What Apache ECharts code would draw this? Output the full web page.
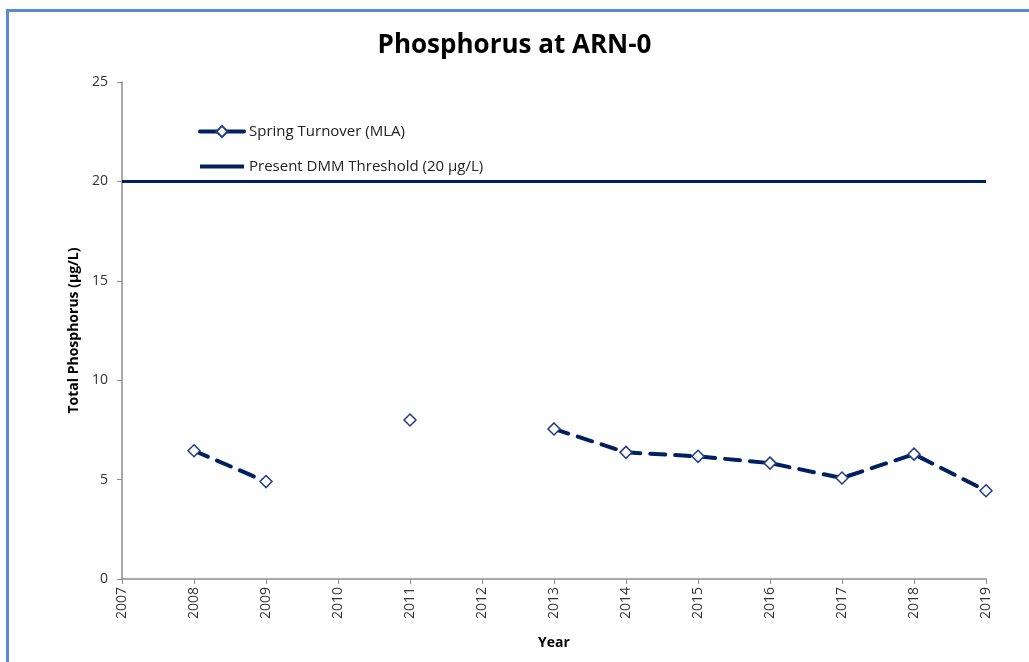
<!DOCTYPE html>
<html>
<head>
<meta charset="utf-8">
<title>Phosphorus at ARN-0</title>
<script src="https://cdn.jsdelivr.net/npm/echarts@6/dist/echarts.min.js"></script>
<style>
    html, body { margin: 0; padding: 0; background: #fff; }
    #chart { width: 1029px; height: 662px; }
</style>
</head>
<body>
<div id="chart"></div>
<script>
// data
let years = [2008, 2009, 2010, 2011, 2012, 2013, 2014, 2015, 2016, 2017, 2018, 2019];
let phosphorus = [6.45, 4.9, null, 8.0, null, 7.55, 6.37, 6.17, 5.83, 5.08, 6.28, 4.44];
let thresholdYears = [2007, 2019];
let thresholdValues = [20, 20];

let navy = '#002060';
let fontFamily = '"Open Sans", "Liberation Sans", sans-serif';

let toPairs = function(xs, ys) {
    return xs.map(function(x, i) {
        return [x, ys[i] === null ? '-' : ys[i]];
    });
};

// plain bar for the threshold legend entry (tiny dots keep the box 44x14)
let lineIcon = 'path://M0,0 L0.01,0 L0,0.01 Z M0,5 L44,5 L44,9 L0,9 Z M44,14 L43.99,14 L44,13.99 Z';

let myChart = echarts.init(document.getElementById('chart'), null, { renderer: 'canvas' });

let options = {
    backgroundColor: '#fff',
    textStyle: { fontFamily: fontFamily },
    title: {
        text: 'Phosphorus at ARN-0',
        left: 'center',
        top: 28,
        textStyle: {
            fontFamily: fontFamily,
            fontSize: 26,
            fontWeight: 'bold',
            color: '#000'
        }
    },
    graphic: [
        {
            type: 'rect',
            silent: true,
            shape: { x: 7.5, y: 10.5, width: 1100, height: 700 },
            style: { fill: 'none', stroke: '#5b8ad2', lineWidth: 3 }
        }
    ],
    legend: {
        orient: 'vertical',
        left: 193,
        top: 119,
        itemWidth: 44,
        itemHeight: 14,
        itemGap: 20,
        textStyle: { fontFamily: fontFamily, fontSize: 15, color: '#222' },
        data: [
            {
                name: 'Spring Turnover (MLA)',
                lineStyle: { type: 'solid', width: 4 }
            },
            {
                name: 'Present DMM Threshold (20 µg/L)',
                icon: lineIcon
            }
        ]
    },
    grid: {
        left: 122,
        right: 43,
        top: 82,
        bottom: 83
    },
    xAxis: {
        type: 'value',
        min: 2007,
        max: 2019,
        interval: 1,
        name: 'Year',
        nameLocation: 'middle',
        nameGap: 57,
        nameTextStyle: { fontFamily: fontFamily, fontSize: 14, fontWeight: 'bold', color: '#000' },
        splitLine: { show: false },
        axisLine: { lineStyle: { color: '#8c8c8c', width: 1.5 } },
        axisTick: { show: true, length: 5, lineStyle: { color: '#8c8c8c' } },
        axisLabel: {
            rotate: 90,
            margin: 8,
            fontSize: 14,
            color: '#333',
            formatter: function(v) { return String(v); }
        }
    },
    yAxis: {
        type: 'value',
        min: 0,
        max: 25,
        interval: 5,
        name: 'Total Phosphorus (µg/L)',
        nameLocation: 'middle',
        nameGap: 41,
        nameTextStyle: { fontFamily: fontFamily, fontSize: 14, fontWeight: 'bold', color: '#000' },
        splitLine: { show: false },
        axisLine: { show: true, lineStyle: { color: '#8c8c8c', width: 1.5 } },
        axisTick: { show: true, length: 5, lineStyle: { color: '#8c8c8c' } },
        axisLabel: { margin: 14, fontSize: 14, color: '#333' }
    },
    series: [
        {
            name: 'Spring Turnover (MLA)',
            type: 'line',
            data: toPairs(years, phosphorus),
            connectNulls: false,
            symbol: 'diamond',
            symbolSize: 12,
            showAllSymbol: true,
            itemStyle: { color: '#fff', borderColor: '#1f3d8a', borderWidth: 1.5 },
            lineStyle: { color: navy, width: 4, type: [15, 10], cap: 'round' },
            z: 3
        },
        {
            name: 'Present DMM Threshold (20 µg/L)',
            type: 'line',
            data: toPairs(thresholdYears, thresholdValues),
            symbol: 'none',
            itemStyle: { color: navy },
            lineStyle: { color: navy, width: 3 },
            z: 2
        }
    ]
};

myChart.setOption(options);
</script>
</body>
</html>
